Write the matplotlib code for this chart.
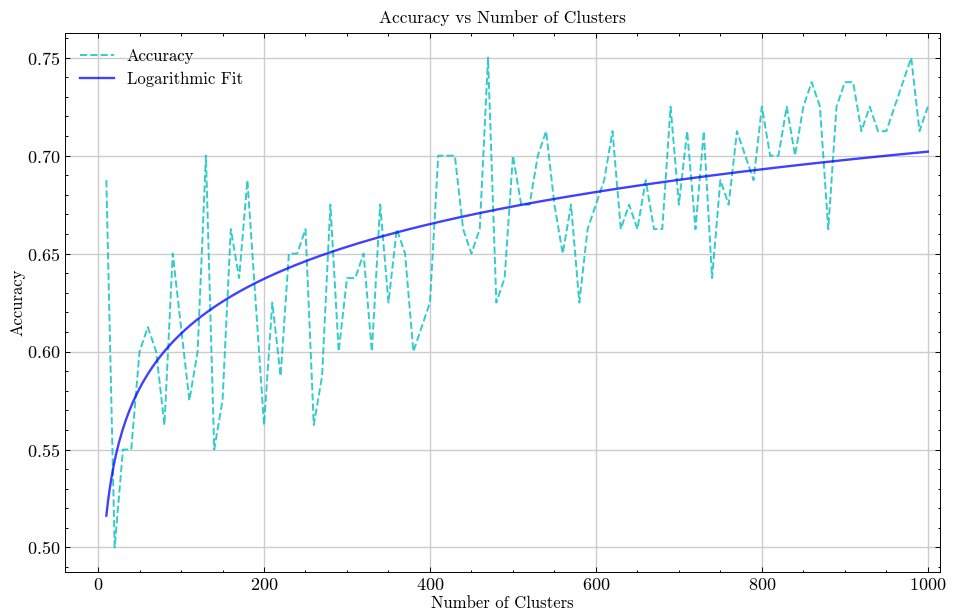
import numpy as np
import matplotlib
matplotlib.use("Agg")
import matplotlib.pyplot as plt
from matplotlib.ticker import MultipleLocator

# Данные: число кластеров и точность
n_clusters = np.arange(10, 1001, 10)
accuracy = [
    0.6875, 0.5, 0.55, 0.55, 0.6, 0.6125, 0.6, 0.5625, 0.65, 0.6125,
    0.575, 0.6, 0.7, 0.55, 0.575, 0.6625, 0.6375, 0.6875, 0.625, 0.5625,
    0.625, 0.5875, 0.65, 0.65, 0.6625, 0.5625, 0.5875, 0.675, 0.6, 0.6375,
    0.6375, 0.65, 0.6, 0.675, 0.625, 0.6625, 0.65, 0.6, 0.6125, 0.625,
    0.7, 0.7, 0.7, 0.6625, 0.65, 0.6625, 0.75, 0.625, 0.6375, 0.7,
    0.675, 0.675, 0.7, 0.7125, 0.675, 0.65, 0.675, 0.625, 0.6625, 0.675,
    0.6875, 0.7125, 0.6625, 0.675, 0.6625, 0.6875, 0.6625, 0.6625, 0.725, 0.675,
    0.7125, 0.6625, 0.7125, 0.6375, 0.6875, 0.675, 0.7125, 0.7, 0.6875, 0.725,
    0.7, 0.7, 0.725, 0.7, 0.725, 0.7375, 0.725, 0.6625, 0.725, 0.7375,
    0.7375, 0.7125, 0.725, 0.7125, 0.7125, 0.725, 0.7375, 0.75, 0.7125, 0.725,
]
accuracy = np.array(accuracy)

# Логарифмическая аппроксимация a*ln(x) + b
b_coef, a_coef = np.polyfit(np.log(n_clusters), accuracy, 1)
x_fit = np.linspace(n_clusters.min(), n_clusters.max(), 500)
y_fit = b_coef * np.log(x_fit) + a_coef

plt.rcParams.update({
    "font.family": "serif",
    "font.serif": ["cmr10"],
    "mathtext.fontset": "cm",
    "axes.formatter.use_mathtext": True,
    "font.size": 11.5,
    "axes.linewidth": 0.7,
    "xtick.direction": "in",
    "ytick.direction": "in",
    "xtick.top": True,
    "ytick.right": True,
    "xtick.major.size": 3.5,
    "ytick.major.size": 3.5,
    "xtick.minor.size": 1.8,
    "ytick.minor.size": 1.8,
    "xtick.major.width": 0.7,
    "ytick.major.width": 0.7,
    "xtick.minor.width": 0.7,
    "ytick.minor.width": 0.7,
    "xtick.labelsize": 13,
    "ytick.labelsize": 13,
})

fig = plt.figure(figsize=(9.6, 6.15), dpi=100)
ax = fig.add_axes([0.068, 0.07, 0.911, 0.876])

ax.plot(n_clusters, accuracy, "--", color="c", alpha=0.8, lw=1.4, label="Accuracy")
ax.plot(x_fit, y_fit, "-", color="b", alpha=0.75, lw=1.7, label="Logarithmic Fit")

ax.set_title("Accuracy vs Number of Clusters", fontsize=12.5, pad=7)
ax.set_xlabel("Number of Clusters", fontsize=12, labelpad=2)
ax.set_ylabel("Accuracy", fontsize=12, labelpad=1)
ax.set_xlim(-39.5, 1014.5)
ax.set_ylim(0.4875, 0.7625)
ax.xaxis.set_major_locator(MultipleLocator(200))
ax.xaxis.set_minor_locator(MultipleLocator(50))
ax.yaxis.set_major_locator(MultipleLocator(0.05))
ax.yaxis.set_minor_locator(MultipleLocator(0.01))
ax.grid(True, color="#cccccc", lw=1.0)
ax.legend(loc="upper left", frameon=False, fontsize=12)

fig.savefig("out.png", dpi=100)
